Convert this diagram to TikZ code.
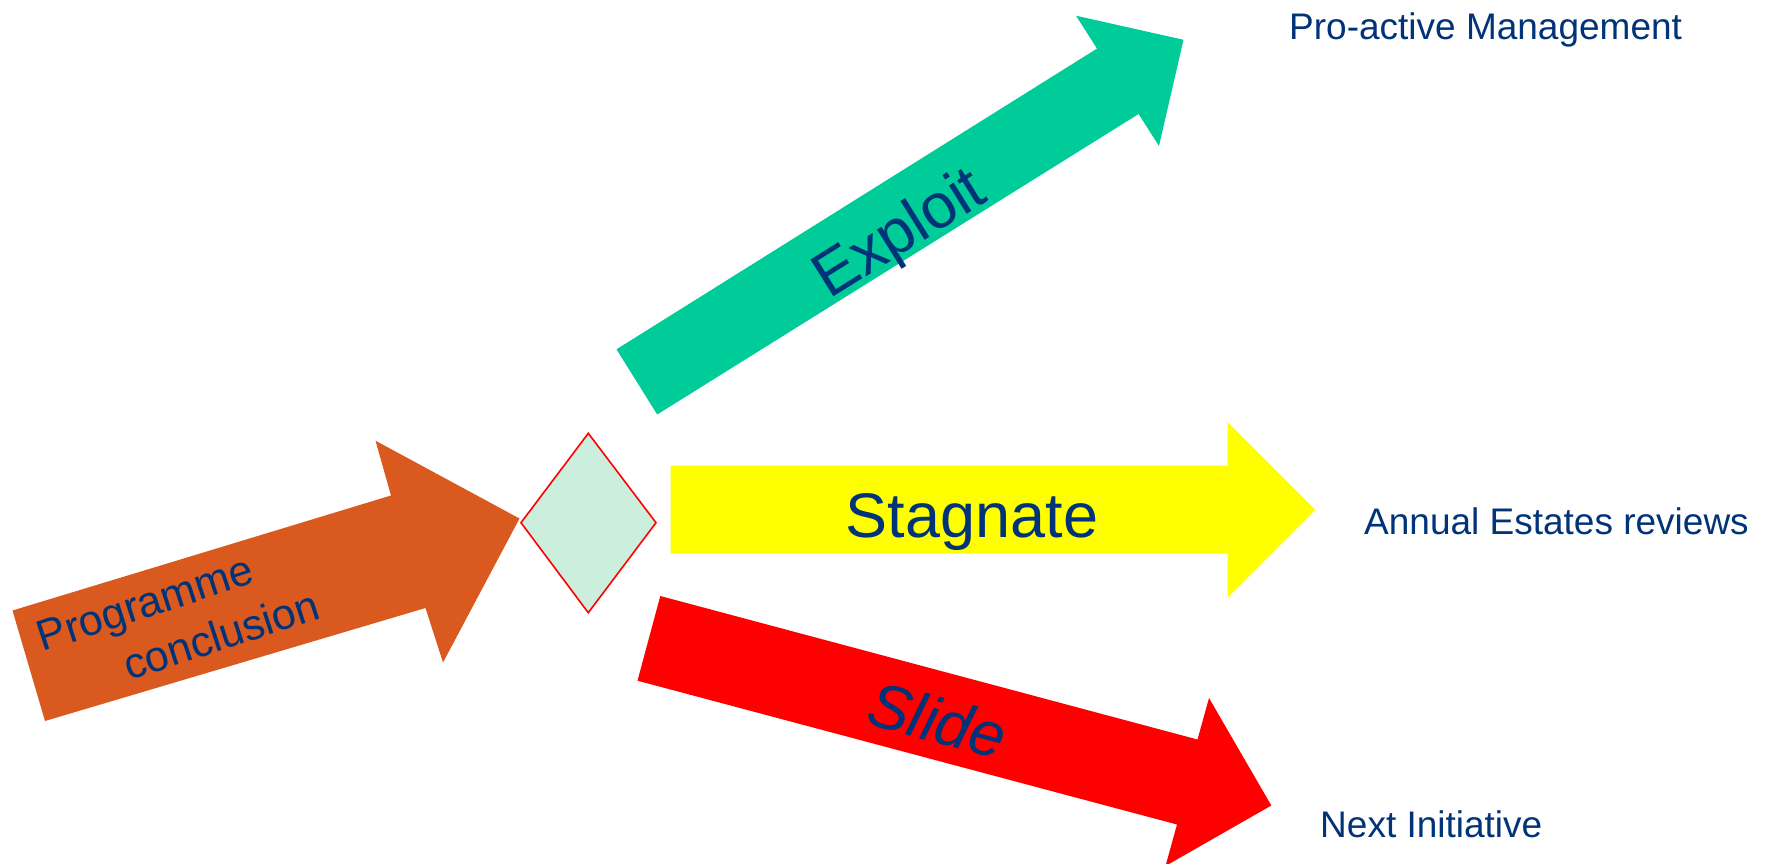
\documentclass[tikz,border=0pt]{standalone}
\usepackage{fontspec}
\setmainfont{Liberation Sans}
\definecolor{txtblue}{RGB}{0,51,120}
\definecolor{arrorange}{RGB}{217,89,30}
\definecolor{arrgreen}{RGB}{0,204,153}
\definecolor{arryellow}{RGB}{255,255,0}
\definecolor{arrred}{RGB}{255,0,0}
\definecolor{mint}{RGB}{204,238,221}
\tikzset{
  lbl/.style={inner sep=0pt, text=txtblue, font=\fontsize{37}{44}\selectfont},
  arrtext/.style={inner sep=0pt, text=txtblue, font=\fontsize{63}{74}\selectfont},
  progtext/.style={inner sep=0pt, text=txtblue, font=\fontsize{43}{50}\selectfont, rotate=18}
}
\begin{document}
\begin{tikzpicture}[x=1pt,y=-1pt]
\useasboundingbox (0,0) rectangle (1767,864);
% orange arrow
\fill[arrorange] (12.5,610.5) -- (391,495.5) -- (375.5,440.7) -- (519.5,518.5)
  -- (443,662.5) -- (425.5,608) -- (45,721) -- cycle;
% diamond
\filldraw[fill=mint, draw=red, line width=1.6pt, line join=miter]
  (588.3,433.3) -- (656,522.7) -- (588.3,612.7) -- (521,522.7) -- cycle;
% green arrow
\fill[arrgreen] (616.5,349.3) -- (1097,48.6) -- (1076,15.7) -- (1183.5,39.8)
  -- (1159,146) -- (1138.6,114) -- (657.2,414.5) -- cycle;
% yellow arrow
\fill[arryellow] (670.5,465.5) -- (1227.5,465.5) -- (1227.5,422) -- (1315.3,509.8)
  -- (1227.5,597.5) -- (1227.5,553.5) -- (670.5,553.5) -- cycle;
% red arrow
\fill[arrred] (660.3,596) -- (1197.5,739.5) -- (1209,698) -- (1271.3,805.5)
  -- (1165.5,866) -- (1177,824.5) -- (637.5,680.7) -- cycle;
% texts on arrows
\node[progtext] (prog) at (146.6,607.4) {Programme};
\node[progtext] (concl) at (221,634.7) {conclusion};
\node[arrtext, rotate=32] (exploit) at (901,236) {Exploit};
\node[arrtext, anchor=base] (stagnate) at (972,537.7) {Stagnate};
\node[arrtext, rotate=-15, font=\fontsize{63}{74}\selectfont\itshape] (slide) at (937.5,720) {Slide};
% outcome labels
\node[lbl, anchor=base west] (pam) at (1289,39.3) {Pro-active Management};
\node[lbl, anchor=base west] (aer) at (1364,534) {Annual Estates reviews};
\node[lbl, anchor=base west] (ni) at (1320,837.3) {Next Initiative};
\end{tikzpicture}
\end{document}
